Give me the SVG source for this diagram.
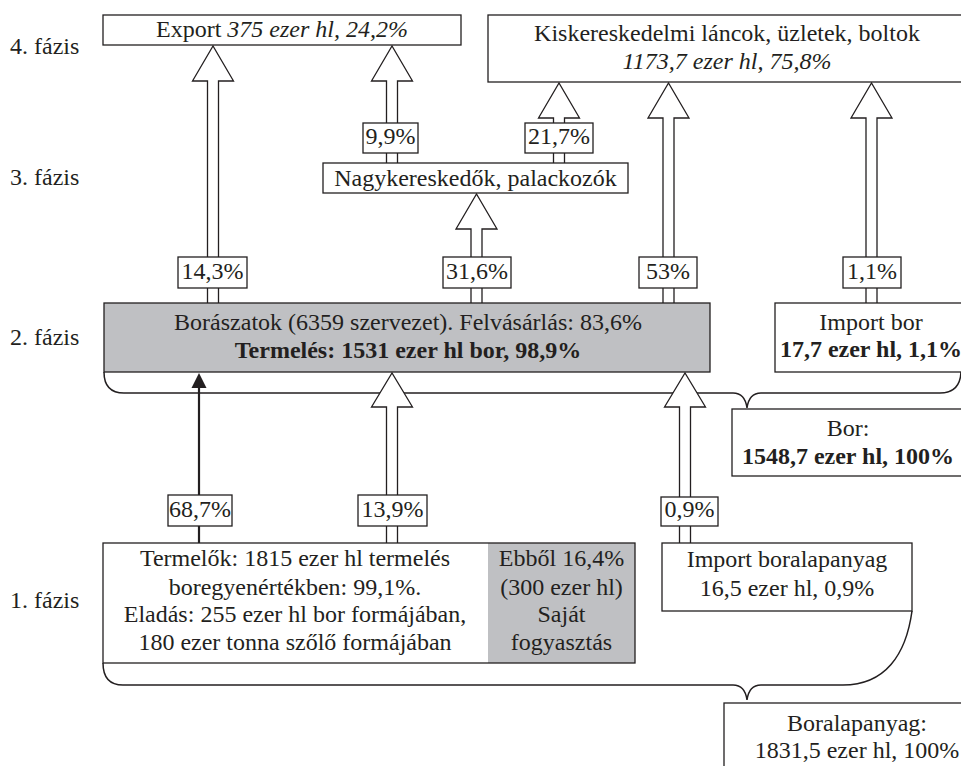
<svg xmlns="http://www.w3.org/2000/svg" width="961" height="766" viewBox="0 0 961 766">
  <rect width="961" height="766" fill="#ffffff"/>

  <g id="phases" fill="#231f20">
    <text font-family="Liberation Serif" font-size="24" x="10" y="54">4. f&#225;zis</text>
    <text font-family="Liberation Serif" font-size="24" x="10" y="185">3. f&#225;zis</text>
    <text font-family="Liberation Serif" font-size="24" x="10" y="345">2. f&#225;zis</text>
    <text font-family="Liberation Serif" font-size="24" x="10" y="608">1. f&#225;zis</text>
  </g>

  <g id="connectors" stroke="#231f20">
    <!-- braces -->
    <path fill="none" stroke-width="1.5" d="M104,372 Q104,393 124,393 H733 Q745,393 747,408 Q749,393 761,393 H940 Q960,393 961,372"/>
    <path fill="none" stroke-width="1.5" d="M103,663 Q103,685 123,685 H733 Q745,685 747,700 Q749,685 761,685 H843 C885,685 906,655 912,611"/>

    <!-- hollow block arrows: shaft 11 wide, head 41 wide, 35 long -->
    <g fill="#ffffff" stroke-width="1.3">
      <path d="M207.5,303 V81 H192.5 L213,46 L233.5,81 H218.5 V303"/>
      <path d="M386.5,163 V81 H371.5 L392,46 L412.5,81 H397.5 V163"/>
      <path d="M553.5,163 V118 H538.5 L559,83 L579.5,118 H564.5 V163"/>
      <path d="M471,303 V229 H456 L476.5,194 L497,229 H482 V303"/>
      <path d="M663,303 V118 H648 L668.5,83 L689,118 H674 V303"/>
      <path d="M866,303 V118 H851 L871.5,83 L892,118 H877 V303"/>
      <path d="M386.5,543 V407 H371.5 L392,373 L412.5,407 H397.5 V543"/>
      <path d="M679.5,543 V407 H664.5 L685,373 L705.5,407 H690.5 V543"/>
    </g>
    <!-- solid arrow -->
    <line x1="199" y1="543" x2="199" y2="386" stroke-width="2.2"/>
    <polygon points="199,373 191.5,388 206.5,388" fill="#231f20" stroke="none"/>

    <!-- share labels -->
    <g fill="#ffffff" stroke-width="1.3">
      <rect x="178" y="257" width="69" height="31"/>
      <rect x="363" y="123" width="55" height="30"/>
      <rect x="525" y="123" width="68" height="30"/>
      <rect x="443" y="257" width="68" height="31"/>
      <rect x="639" y="257" width="58" height="31"/>
      <rect x="843" y="257" width="58" height="31"/>
      <rect x="168" y="495" width="64" height="31"/>
      <rect x="358" y="495" width="69" height="31"/>
      <rect x="661" y="497" width="57" height="29"/>
    </g>
    <g fill="#231f20" stroke="none">
      <text font-family="Liberation Serif" font-size="24" text-anchor="middle" x="212.5" y="279">14,3%</text>
      <text font-family="Liberation Serif" font-size="24" text-anchor="middle" x="390.5" y="144">9,9%</text>
      <text font-family="Liberation Serif" font-size="24" text-anchor="middle" x="559" y="144">21,7%</text>
      <text font-family="Liberation Serif" font-size="24" text-anchor="middle" x="477" y="279">31,6%</text>
      <text font-family="Liberation Serif" font-size="24" text-anchor="middle" x="668" y="279">53%</text>
      <text font-family="Liberation Serif" font-size="24" text-anchor="middle" x="872" y="279">1,1%</text>
      <text font-family="Liberation Serif" font-size="24" text-anchor="middle" x="200" y="517">68,7%</text>
      <text font-family="Liberation Serif" font-size="24" text-anchor="middle" x="392.5" y="517">13,9%</text>
      <text font-family="Liberation Serif" font-size="24" text-anchor="middle" x="689.5" y="517">0,9%</text>
    </g>
  </g>

  <g id="n-export">
    <rect x="103" y="15" width="358" height="30" fill="#ffffff" stroke="#231f20" stroke-width="1.3"/>
    <text font-family="Liberation Serif" font-size="24" fill="#231f20" text-anchor="middle" x="282" y="37">Export <tspan font-style="italic">375 ezer hl, 24,2%</tspan></text>
  </g>
  <g id="n-kisker">
    <rect x="488" y="15" width="478" height="67" fill="#ffffff" stroke="#231f20" stroke-width="1.3"/>
    <text font-family="Liberation Serif" font-size="24" fill="#231f20" text-anchor="middle" x="727" y="41">Kiskereskedelmi l&#225;ncok, &#252;zletek, boltok</text>
    <text font-family="Liberation Serif" font-size="24" fill="#231f20" text-anchor="middle" font-style="italic" x="727" y="69">1173,7 ezer hl, 75,8%</text>
  </g>

  <g id="n-nagyker">
    <rect x="323" y="163" width="305" height="30" fill="#ffffff" stroke="#231f20" stroke-width="1.3"/>
    <text font-family="Liberation Serif" font-size="24" fill="#231f20" text-anchor="middle" x="475.5" y="186">Nagykereskedők, palackoz&#243;k</text>
  </g>

  <g id="n-boraszat">
    <rect x="104" y="303" width="606" height="69" fill="#bfc0c3" stroke="#231f20" stroke-width="1.3"/>
    <text font-family="Liberation Serif" font-size="24" fill="#231f20" text-anchor="middle" x="408" y="330">Bor&#225;szatok (6359 szervezet). Felv&#225;s&#225;rl&#225;s: 83,6%</text>
    <text font-family="Liberation Serif" font-size="24" fill="#231f20" text-anchor="middle" font-weight="bold" x="408" y="358">Termel&#233;s: 1531 ezer hl bor, 98,9%</text>
  </g>
  <g id="n-importbor">
    <rect x="775" y="303" width="192" height="69" fill="#ffffff" stroke="#231f20" stroke-width="1.3"/>
    <text font-family="Liberation Serif" font-size="24" fill="#231f20" text-anchor="middle" x="871" y="330">Import bor</text>
    <text font-family="Liberation Serif" font-size="24" fill="#231f20" text-anchor="middle" font-weight="bold" x="871" y="357">17,7 ezer hl, 1,1%</text>
  </g>
  <g id="n-bor">
    <rect x="732" y="409" width="235" height="67" fill="#ffffff" stroke="#231f20" stroke-width="1.3"/>
    <text font-family="Liberation Serif" font-size="24" fill="#231f20" text-anchor="middle" x="848" y="436">Bor:</text>
    <text font-family="Liberation Serif" font-size="24" fill="#231f20" text-anchor="middle" font-weight="bold" x="848" y="464">1548,7 ezer hl, 100%</text>
  </g>

  <g id="n-termelok">
    <rect x="488" y="543" width="147" height="120" fill="#bfc0c3"/>
    <rect x="103" y="543" width="532" height="120" fill="none" stroke="#231f20" stroke-width="1.3"/>
    <text font-family="Liberation Serif" font-size="24" fill="#231f20" text-anchor="middle" x="295" y="566">Termelők: 1815 ezer hl termel&#233;s</text>
    <text font-family="Liberation Serif" font-size="24" fill="#231f20" text-anchor="middle" x="295" y="595">boregyen&#233;rt&#233;kben: 99,1%.</text>
    <text font-family="Liberation Serif" font-size="24" fill="#231f20" text-anchor="middle" x="295" y="622">Elad&#225;s: 255 ezer hl bor form&#225;j&#225;ban,</text>
    <text font-family="Liberation Serif" font-size="24" fill="#231f20" text-anchor="middle" x="295" y="650">180 ezer tonna szőlő form&#225;j&#225;ban</text>
    <text font-family="Liberation Serif" font-size="24" fill="#231f20" text-anchor="middle" x="561.5" y="566">Ebből 16,4%</text>
    <text font-family="Liberation Serif" font-size="24" fill="#231f20" text-anchor="middle" x="561.5" y="595">(300 ezer hl)</text>
    <text font-family="Liberation Serif" font-size="24" fill="#231f20" text-anchor="middle" x="561.5" y="622">Saj&#225;t</text>
    <text font-family="Liberation Serif" font-size="24" fill="#231f20" text-anchor="middle" x="561.5" y="650">fogyaszt&#225;s</text>
  </g>
  <g id="n-importalap">
    <rect x="662" y="543" width="250" height="68" fill="#ffffff" stroke="#231f20" stroke-width="1.3"/>
    <text font-family="Liberation Serif" font-size="24" fill="#231f20" text-anchor="middle" x="787" y="567">Import boralapanyag</text>
    <text font-family="Liberation Serif" font-size="24" fill="#231f20" text-anchor="middle" x="787" y="596">16,5 ezer hl, 0,9%</text>
  </g>
  <g id="n-boralap">
    <rect x="724" y="703" width="250" height="80" fill="#ffffff" stroke="#231f20" stroke-width="1.3"/>
    <text font-family="Liberation Serif" font-size="24" fill="#231f20" text-anchor="middle" x="857" y="731">Boralapanyag:</text>
    <text font-family="Liberation Serif" font-size="24" fill="#231f20" text-anchor="middle" x="857" y="758">1831,5 ezer hl, 100%</text>
  </g>
</svg>
